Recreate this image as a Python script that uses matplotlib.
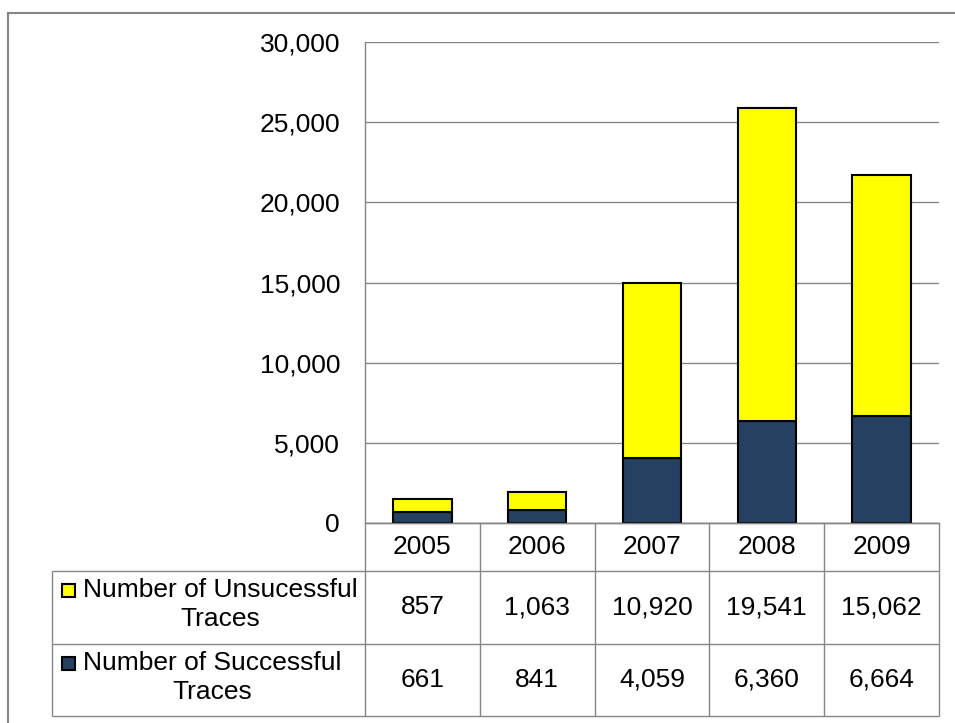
import matplotlib
matplotlib.use("Agg")
import matplotlib.pyplot as plt
from matplotlib.patches import Rectangle
from matplotlib.lines import Line2D
from matplotlib.ticker import FuncFormatter

plt.rcParams['font.family'] = ['Liberation Sans', 'DejaVu Sans']

years = ["2005", "2006", "2007", "2008", "2009"]
unsuccessful = [857, 1063, 10920, 19541, 15062]
successful = [661, 841, 4059, 6360, 6664]
series_labels = ["Number of Unsucessful\nTraces", "Number of Successful\nTraces"]
yticks = [0, 5000, 10000, 15000, 20000, 25000, 30000]

YELLOW = "#FFFF00"
NAVY = "#254061"
GRID = "#868686"
FS = 19

W, H = 955, 723
fig = plt.figure(figsize=(W / 100, H / 100), dpi=100)

def fx(px):
    return px / W

def fy(py):
    return 1 - py / H

# main plot area (pixels)
L, R, T, B = 365, 939, 42, 523
ax = fig.add_axes([fx(L), fy(B), fx(R - L), (B - T) / H])
x = list(range(len(years)))
ax.bar(x, successful, width=0.51, color=NAVY, edgecolor="black", linewidth=1.5, zorder=3)
ax.bar(x, unsuccessful, width=0.51, bottom=successful, color=YELLOW, edgecolor="black",
       linewidth=1.5, zorder=3)
ax.set_xlim(-0.5, len(years) - 0.5)
ax.set_ylim(0, 30000)
ax.set_yticks(yticks)
ax.yaxis.set_major_formatter(FuncFormatter(lambda v, p: f"{int(v):,}"))
ax.tick_params(axis="y", length=0, pad=18, labelsize=FS)
ax.set_xticks([])
ax.grid(axis="y", color=GRID, linewidth=1.0, zorder=0)
for s in ["top", "right"]:
    ax.spines[s].set_visible(False)
for s in ["left", "bottom"]:
    ax.spines[s].set_color(GRID)
    ax.spines[s].set_linewidth(1.0)

# data table area
TL, TB = 52, 716
cw = (R - L) / len(years)
lw_units = (L - TL) / cw
tax = fig.add_axes([fx(TL), fy(TB), fx(R - TL), (TB - B) / H])
tax.set_xlim(-0.5 - lw_units, len(years) - 0.5)
tax.set_ylim(TB - B, 0)
tax.axis("off")
hdr = 571 - B
r1 = 644 - B
r2 = TB - B
xl = -0.5 - lw_units
xr = len(years) - 0.5
lkw = dict(color=GRID, linewidth=1.0, solid_capstyle="butt", clip_on=False)
tax.plot([-0.5, xr], [0, 0], **lkw)
for yy in [hdr, r1, r2]:
    tax.plot([xl, xr], [yy, yy], **lkw)
tax.plot([xl, xl], [hdr, r2], **lkw)
for i in range(len(years) + 1):
    tax.plot([i - 0.5, i - 0.5], [0, r2], **lkw)

for i, yr in enumerate(years):
    tax.text(i, hdr / 2, yr, ha="center", va="center", fontsize=FS)

rows = [(unsuccessful, YELLOW), (successful, NAVY)]
bounds = [(hdr, r1), (r1, r2)]
for (vals, col), lab, (y0, y1) in zip(rows, series_labels, bounds):
    cy = (y0 + y1) / 2
    for i, v in enumerate(vals):
        tax.text(i, cy, f"{v:,}", ha="center", va="center", fontsize=FS)
    tx = xl + (83 - TL) / cw
    tax.text(tx, y0 + 7, lab, ha="left", va="top", multialignment="center",
             fontsize=FS, linespacing=1.26)
    sx = xl + (62 - TL) / cw
    sw = 13 / cw
    tax.add_patch(Rectangle((sx, y0 + 13), sw, 13, facecolor=col, edgecolor="black",
                            linewidth=1.5, clip_on=False))

# outer frame (partially visible)
fig.add_artist(Line2D([fx(8), fx(8)], [fy(13), -0.1], color=GRID, linewidth=1.5))
fig.add_artist(Line2D([fx(8), 1.1], [fy(13), fy(13)], color=GRID, linewidth=1.5))

fig.savefig("out.png", dpi=100)
